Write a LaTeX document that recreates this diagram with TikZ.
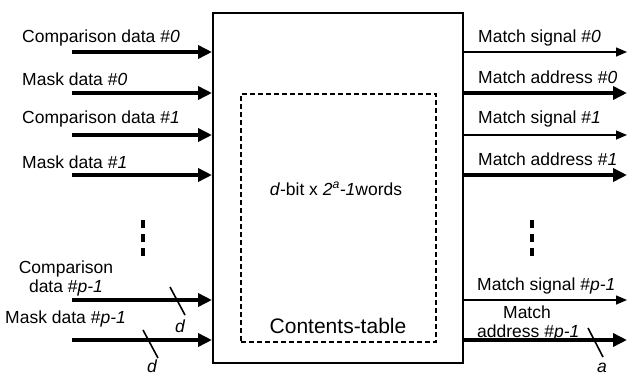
\documentclass[tikz,border=0pt]{standalone}
\usepackage{fontspec}
\setmainfont{Liberation Sans}
\usetikzlibrary{arrows.meta}
\begin{document}
\begin{tikzpicture}[x=1pt,y=-1pt,
  lbl/.style={anchor=base west, inner sep=0pt, font=\fontsize{17.5}{20}\selectfont},
  clbl/.style={anchor=base, inner sep=0pt, font=\fontsize{17.5}{20}\selectfont},
  thickarr/.style={line width=3.5pt, -{Triangle[length=14pt,width=13pt]}},
  thinarr/.style={line width=1.5pt, -{Triangle[length=11pt,width=9pt]}},
  slashmark/.style={line width=1.6pt},
  vdots/.style={line width=3.5pt, dash pattern=on 8pt off 6pt},
  outerbox/.style={draw, line width=2pt, inner sep=0pt, minimum width=250pt, minimum height=350pt, anchor=north west},
  innerbox/.style={draw, line width=1.8pt, dash pattern=on 5pt off 3pt, inner sep=0pt, minimum width=195pt, minimum height=248pt, anchor=north west}
]
\useasboundingbox (0,0) rectangle (629,375);

\node[outerbox] (cam) at (212,12) {};
\node[innerbox] (tbl) at (240,93) {};
\node[clbl] (words) at (336,195) {\textit{d}-bit x \textit{2\textsuperscript{a}-1}words};
\node[anchor=base, inner sep=0pt, font=\fontsize{21}{24}\selectfont] (ctab) at (338,333) {Contents-table};

% left inputs
\coordinate (in0) at (72,52);
\coordinate (in1) at (72,93);
\coordinate (in2) at (72,135);
\coordinate (in3) at (72,175);
\coordinate (in4) at (72,300);
\coordinate (in5) at (72,340);
\foreach \i in {0,...,5} \draw[thickarr] (in\i) -- (in\i -| cam.west);

\node[lbl] (l0) at (22,42) {Comparison data \#\textit{0}};
\node[lbl] (l1) at (22,85) {Mask data \#\textit{0}};
\node[lbl] (l2) at (22,123) {Comparison data \#\textit{1}};
\node[lbl] (l3) at (22,168) {Mask data \#\textit{1}};
\node[clbl] (l4a) at (66,273) {Comparison};
\node[clbl] (l4b) at (66,292) {data \#\textit{p-1}};
\node[lbl] (l5) at (5,323) {Mask data \#\textit{p-1}};

\draw[vdots] (143,220) -- (143,258);

\draw[slashmark] (170,287) -- (185,315);
\node[lbl] (d1) at (175,332) {\textit{d}};
\draw[slashmark] (143,330) -- (158,358);
\node[lbl] (d2) at (147,372) {\textit{d}};

% right outputs
\coordinate (out0) at (627,52);
\coordinate (out1) at (627,93);
\coordinate (out2) at (627,135);
\coordinate (out3) at (627,175);
\coordinate (out4) at (627,300);
\coordinate (out5) at (627,340);
\draw[thinarr] (cam.east |- out0) -- (out0);
\draw[thickarr] (cam.east |- out1) -- (out1);
\draw[thinarr] (cam.east |- out2) -- (out2);
\draw[thickarr] (cam.east |- out3) -- (out3);
\draw[thinarr] (cam.east |- out4) -- (out4);
\draw[thickarr] (cam.east |- out5) -- (out5);

\node[lbl] (r0) at (478,42) {Match signal \#\textit{0}};
\node[lbl] (r1) at (478,83) {Match address \#\textit{0}};
\node[lbl] (r2) at (478,123) {Match signal \#\textit{1}};
\node[lbl] (r3) at (478,165) {Match address \#\textit{1}};
\node[lbl] (r4) at (477,290) {Match signal \#\textit{p-1}};
\node[clbl] (r5a) at (527,318) {Match};
\node[lbl] (r5b) at (477,337) {address \#\textit{p-1}};

\draw[vdots] (532,220) -- (532,258);

\draw[slashmark] (588,328) -- (603,357);
\node[lbl] (a1) at (597,372) {\textit{a}};
\end{tikzpicture}
\end{document}
